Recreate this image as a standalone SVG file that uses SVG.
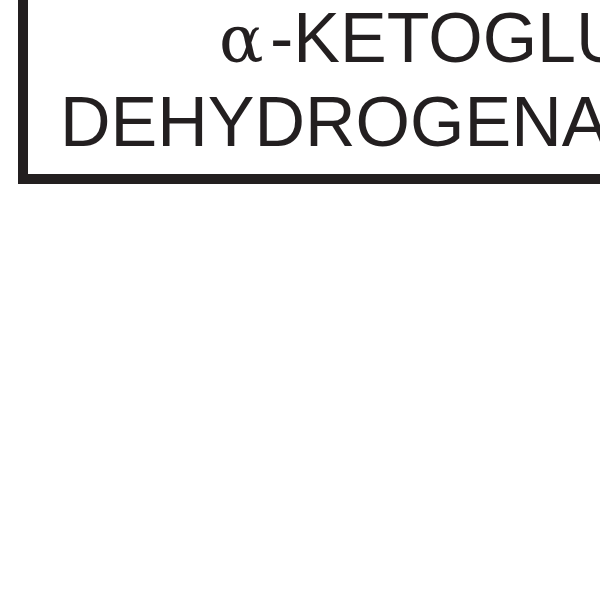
<svg xmlns="http://www.w3.org/2000/svg" width="600" height="600" viewBox="0 0 600 600">
<style>
.box{fill:none;stroke:#231f20;stroke-width:10}
.t{font-family:"Liberation Sans",Arial,sans-serif;font-size:70px;fill:#231f20}
.g{font-family:"DejaVu Serif","Liberation Serif",serif;font-size:66px;fill:#231f20}
</style>
<rect width="600" height="600" fill="#ffffff"/>
<g id="enzyme-box">
<rect class="box" x="23" y="-20" width="620" height="199"/>
<text class="g" x="219" y="62">α</text>
<text class="t" x="270" y="62">-KETOGLUTARATE</text>
<text class="t" x="60" y="146">DEHYDROGENASE</text>
</g>
</svg>
